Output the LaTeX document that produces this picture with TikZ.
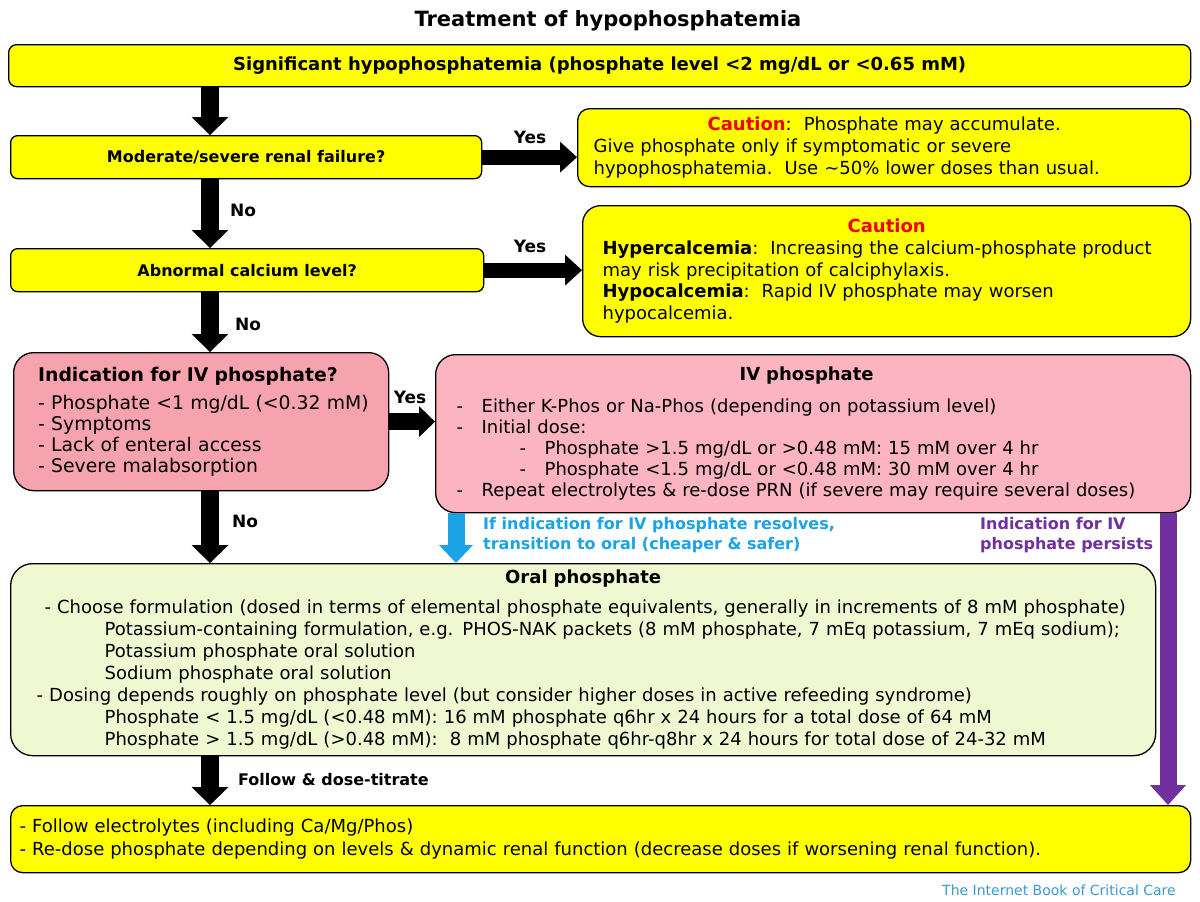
\documentclass[tikz,border=0pt]{standalone}
\usepackage{fontspec}
\setmainfont{DejaVu Sans}
\usetikzlibrary{arrows.meta,calc}
\definecolor{ylw}{HTML}{FFFF00}
\definecolor{pinkA}{HTML}{F6A3AF}
\definecolor{pinkB}{HTML}{FCB4C1}
\definecolor{grn}{HTML}{F0F8D2}
\definecolor{bluA}{HTML}{1BA3E6}
\definecolor{purA}{HTML}{7030A0}
\definecolor{redA}{HTML}{F00000}
\definecolor{footc}{HTML}{3A9BD0}
\begin{document}
\begin{tikzpicture}[x=1pt,y=-1pt,
  box/.style={draw=black, line width=1.3pt, anchor=north west, inner ysep=0pt, align=left,
    font=\fontsize{18}{21.7}\selectfont},
  qbox/.style={box, fill=ylw, rounded corners=7pt, align=center, font=\fontsize{16}{19}\selectfont\bfseries},
  blk/.style={line width=18pt, -{Triangle[width=37pt,length=18pt,line width=0pt]}},
  yesarr/.style={line width=15pt, -{Triangle[width=31pt,length=17pt,line width=0pt]}},
  lbl/.style={font=\fontsize{17}{20}\selectfont\bfseries, inner sep=0pt},
  clbl/.style={anchor=north west, align=left, inner sep=0pt, font=\fontsize{16}{20}\selectfont\bfseries}
]
\useasboundingbox[fill=white] (0,0) rectangle (1200,902);
\coordinate (ax) at (210,0);
\coordinate (bx) at (456,0);
\coordinate (px) at (1168,0);

\node[anchor=base, inner sep=0pt, font=\fontsize{21}{25}\selectfont\bfseries] (title) at (608,26) {Treatment of hypophosphatemia};

\node[box, fill=ylw, rounded corners=8pt, minimum width=1182pt, minimum height=42pt, align=center,
  font=\fontsize{18}{21}\selectfont\bfseries] (b1) at (8,44)
  {Significant hypophosphatemia (phosphate level <2 mg/dL or <0.65 mM)};

\node[qbox, minimum width=471pt, minimum height=43pt] (b2) at (10,135) {Moderate/severe renal failure?};

\node[box, fill=ylw, rounded corners=12pt, minimum width=613pt, minimum height=78pt,
  inner xsep=16pt, text width=581pt, font=\fontsize{18}{22}\selectfont] (c1) at (577,108)
  {\makebox[581pt][c]{\textcolor{redA}{\textbf{Caution}}:\ \ Phosphate may accumulate.}\\
   Give phosphate only if symptomatic or severe\\
   hypophosphatemia.\ \ Use \textasciitilde50\% lower doses than usual.};

\node[qbox, minimum width=473pt, minimum height=43pt] (b3) at (10,248) {Abnormal calcium level?};

\node[box, fill=ylw, rounded corners=18pt, minimum width=608pt, minimum height=131pt,
  inner xsep=20pt, text width=568pt] (c2) at (582,205)
  {\makebox[568pt][c]{\textcolor{redA}{\textbf{Caution}}}\\
   \textbf{Hypercalcemia}:\ \ Increasing the calcium-phosphate product\\
   may risk precipitation of calciphylaxis.\\
   \textbf{Hypocalcemia}:\ \ Rapid IV phosphate may worsen\\
   hypocalcemia.};

\node[box, fill=pinkA, rounded corners=20pt, minimum width=375pt, minimum height=138pt,
  inner xsep=18.5pt, text width=338pt, font=\fontsize{18.8}{21}\selectfont] (ind) at (13,352)
  {\hspace*{6pt}\textbf{Indication for IV phosphate?}\\[7pt]
   \hspace*{6pt}- Phosphate <1 mg/dL (<0.32 mM)\\
   \hspace*{6pt}- Symptoms\\
   \hspace*{6pt}- Lack of enteral access\\
   \hspace*{6pt}- Severe malabsorption};

\node[box, fill=pinkB, rounded corners=20pt, minimum width=755pt, minimum height=158pt,
  inner xsep=21pt, text width=713pt, font=\fontsize{18}{21}\selectfont] (iv) at (435,354)
  {\makebox[700pt][c]{\textbf{IV phosphate}}\\[11pt]
   \makebox[25pt][l]{-}Either K-Phos or Na-Phos (depending on potassium level)\\
   \makebox[25pt][l]{-}Initial dose:\\
   \hspace*{63pt}\makebox[25pt][l]{-}Phosphate >1.5 mg/dL or >0.48 mM: 15 mM over 4 hr\\
   \hspace*{63pt}\makebox[25pt][l]{-}Phosphate <1.5 mg/dL or <0.48 mM: 30 mM over 4 hr\\
   \makebox[25pt][l]{-}Repeat electrolytes \& re-dose PRN (if severe may require several doses)};

\node[box, fill=grn, rounded corners=22pt, minimum width=1145pt, minimum height=192pt,
  inner xsep=26pt, text width=1093pt, font=\fontsize{18}{21.9}\selectfont] (oral) at (10,563)
  {\makebox[1093pt][c]{\textbf{Oral phosphate}}\\[8pt]
   \hspace*{8pt}- Choose formulation (dosed in terms of elemental phosphate equivalents, generally in increments of 8 mM phosphate)\\
   \hspace*{68pt}Potassium-containing formulation, e.g. PHOS-NAK packets (8 mM phosphate, 7 mEq potassium, 7 mEq sodium);\\
   \hspace*{68pt}Potassium phosphate oral solution\\
   \hspace*{68pt}Sodium phosphate oral solution\\
   - Dosing depends roughly on phosphate level (but consider higher doses in active refeeding syndrome)\\
   \hspace*{68pt}Phosphate < 1.5 mg/dL (<0.48 mM): 16 mM phosphate q6hr x 24 hours for a total dose of 64 mM\\
   \hspace*{68pt}Phosphate > 1.5 mg/dL (>0.48 mM):\ \ 8 mM phosphate q6hr-q8hr x 24 hours for total dose of 24-32 mM};

\node[box, fill=ylw, rounded corners=12pt, minimum width=1180pt, minimum height=67pt,
  inner xsep=9pt, text width=1162pt, font=\fontsize{18}{23}\selectfont] (fin) at (10,805)
  {- Follow electrolytes (including Ca/Mg/Phos)\\
   - Re-dose phosphate depending on levels \& dynamic renal function (decrease doses if worsening renal function).};

\node[anchor=base east, inner sep=0pt, text=footc, font=\fontsize{14}{16}\selectfont] (foot) at (1176,895)
  {The Internet Book of Critical Care};

% connectors
\draw[blk] (b1.south -| ax) -- (b2.north -| ax);
\draw[blk] (b2.south -| ax) -- (b3.north -| ax);
\draw[blk] (b3.south -| ax) -- (ind.north -| ax);
\draw[blk] (ind.south -| ax) -- (oral.north -| ax);
\draw[blk] (oral.south -| ax) -- (fin.north -| ax);
\draw[yesarr] (b2.east) -- (b2.east -| c1.west);
\draw[yesarr] (b3.east) -- (b3.east -| c2.west);
\draw[line width=17pt, -{Triangle[width=31pt,length=16pt,line width=0pt]}] (ind.east) -- (ind.east -| iv.west);
\draw[line width=17pt, draw=bluA, -{Triangle[width=34pt,length=18pt,line width=0pt]}] (iv.south -| bx) -- (oral.north -| bx);
\draw[line width=17pt, draw=purA, -{Triangle[width=36pt,length=20pt,line width=0pt]}] (iv.south -| px) -- (fin.north -| px);

% labels
\node[lbl] (y1) at (530,137) {Yes};
\node[lbl] (y2) at (530,246) {Yes};
\node[lbl] (y3) at (410,397) {Yes};
\node[lbl] (n1) at (243,210) {No};
\node[lbl] (n2) at (248,324) {No};
\node[lbl] (n3) at (245,521) {No};
\node[lbl, anchor=west, font=\fontsize{16}{20}\selectfont\bfseries] (fl) at (238,780) {Follow \& dose-titrate};
\node[clbl, text=bluA] (bl) at (483,517) {If indication for IV phosphate resolves,\\transition to oral (cheaper \& safer)};
\node[clbl, text=purA] (pl) at (980,517) {Indication for IV\\phosphate persists};
\end{tikzpicture}
\end{document}
